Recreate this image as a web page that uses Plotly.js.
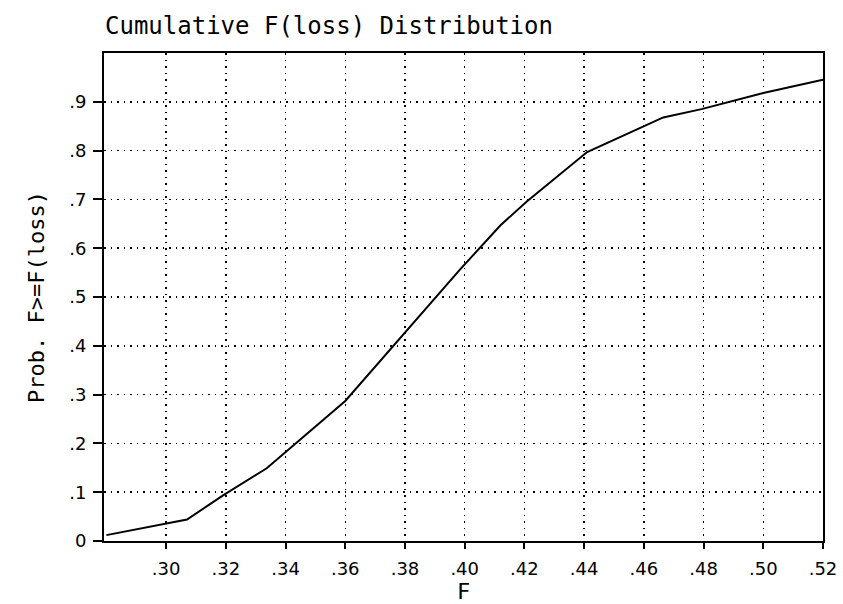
<!DOCTYPE html>
<html>
<head>
<meta charset="utf-8">
<script src="https://cdn.plot.ly/plotly-3.0.1.min.js"></script>
<style>html,body{margin:0;padding:0;background:#fff;}#chart{width:843px;height:604px;}</style>
</head>
<body>
<div id="chart"></div>
<script>
// Data
const fValues = [0.280, 0.307, 0.3192, 0.3337, 0.360, 0.3984, 0.412, 0.4207, 0.441, 0.4587, 0.4665, 0.4793, 0.500, 0.520];
const probValues = [0.012, 0.044, 0.094, 0.149, 0.287, 0.556, 0.647, 0.695, 0.797, 0.846, 0.868, 0.885, 0.918, 0.945];

const xTickVals = [0.30, 0.32, 0.34, 0.36, 0.38, 0.40, 0.42, 0.44, 0.46, 0.48, 0.50, 0.52];
const xTickText = [".30", ".32", ".34", ".36", ".38", ".40", ".42", ".44", ".46", ".48", ".50", ".52"];
const yTickVals = [0, 0.1, 0.2, 0.3, 0.4, 0.5, 0.6, 0.7, 0.8, 0.9];
const yTickText = ["0", ".1", ".2", ".3", ".4", ".5", ".6", ".7", ".8", ".9"];

const titleText = "Cumulative F(loss) Distribution";
const xTitle = "F";
const yTitle = "Prob. F>=F(loss)";

const mono = "DejaVu Sans Mono, monospace";
const sans = "DejaVu Sans, sans-serif";

const trace = {
  x: fValues,
  y: probValues,
  type: "scatter",
  mode: "lines",
  line: {color: "#000", width: 2},
  hoverinfo: "none",
  showlegend: false
};

const axisCommon = {
  showline: true,
  mirror: true,
  linecolor: "#000",
  linewidth: 2,
  ticks: "outside",
  tickcolor: "#000",
  tickwidth: 2,
  showgrid: true,
  gridcolor: "#000",
  gridwidth: 1.5,
  griddash: "1.5px,5px",
  zeroline: false,
  tickfont: {family: sans, size: 18, color: "#000"}
};

const layout = {
  width: 843,
  height: 604,
  margin: {l: 104, r: 20, t: 53, b: 63},
  paper_bgcolor: "#fff",
  plot_bgcolor: "#fff",
  title: {
    text: titleText,
    font: {family: mono, size: 24, color: "#000"},
    x: 105 / 843,
    xanchor: "left",
    xref: "container",
    y: 1 - 26 / 604,
    yanchor: "middle",
    yref: "container"
  },
  xaxis: Object.assign({}, axisCommon, {
    range: [0.2792, 0.52],
    tickmode: "array",
    tickvals: xTickVals,
    ticktext: xTickText,
    ticklen: 6,
    ticklabelstandoff: 4,
    title: {text: xTitle, font: {family: mono, size: 22, color: "#000"}, standoff: 4}
  }),
  yaxis: Object.assign({}, axisCommon, {
    range: [0, 1],
    tickmode: "array",
    tickvals: yTickVals,
    ticktext: yTickText,
    ticklen: 9,
    ticklabelstandoff: 3,
    title: {text: yTitle, font: {family: mono, size: 22, color: "#000"}, standoff: 19}
  })
};

Plotly.newPlot("chart", [trace], layout, {staticPlot: true, displayModeBar: false});
</script>
</body>
</html>
